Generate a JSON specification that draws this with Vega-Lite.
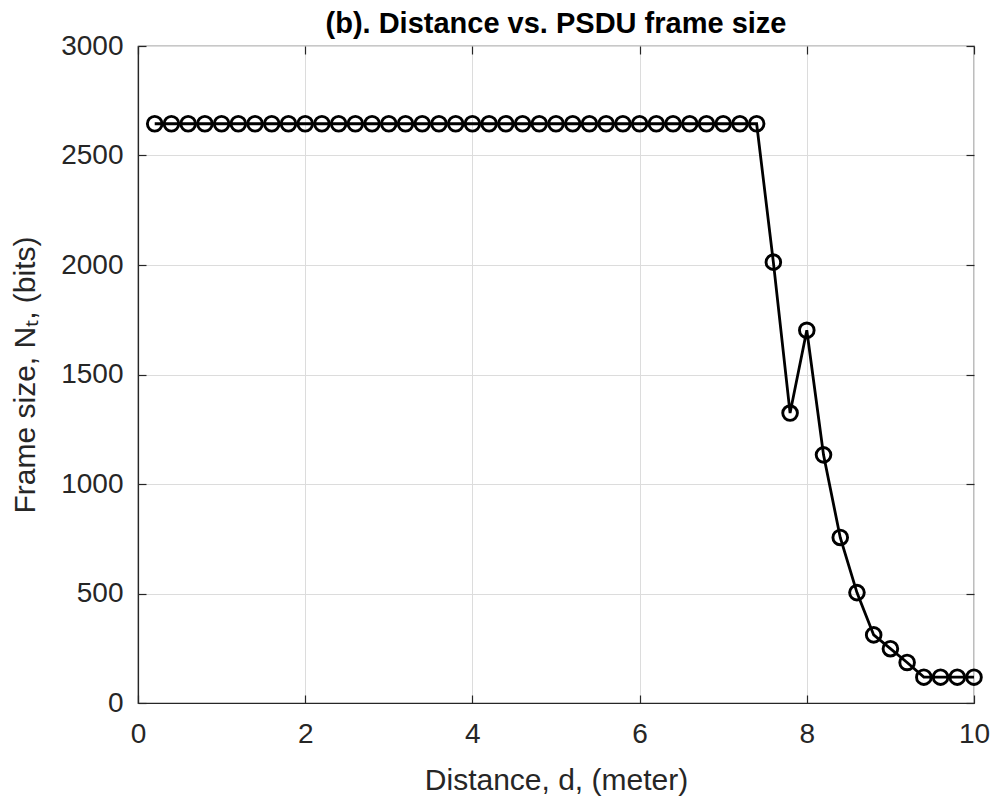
{
  "$schema": "https://vega.github.io/schema/vega-lite/v6.json",
  "autosize": {"type": "none"},
  "padding": {"left": 138, "top": 46, "right": 18, "bottom": 94},
  "width": 836,
  "height": 657,
  "background": "white",
  "title": {"text": "(b). Distance vs. PSDU frame size", "font": "Liberation Sans", "fontSize": 29, "fontWeight": "bold", "color": "#000000", "offset": -7, "anchor": "middle"},
  "config": {
    "view": {"stroke": "#262626", "strokeWidth": 1.2},
    "axis": {"domainColor": "#262626", "tickColor": "#262626", "labelColor": "#262626", "titleColor": "#262626", "labelFont": "Liberation Sans", "titleFont": "Liberation Sans", "labelFontSize": 28, "titleFontSize": 30, "titleFontWeight": "normal", "gridColor": "#dcdcdc", "gridWidth": 1, "tickSize": -8, "tickWidth": 1.2, "domainWidth": 1.2, "format": "d"}
  },
  "data": {"values": [
    {"d": 0.2, "n": 2645}, {"d": 0.4, "n": 2645}, {"d": 0.6, "n": 2645}, {"d": 0.8, "n": 2645},
    {"d": 1.0, "n": 2645}, {"d": 1.2, "n": 2645}, {"d": 1.4, "n": 2645}, {"d": 1.6, "n": 2645},
    {"d": 1.8, "n": 2645}, {"d": 2.0, "n": 2645}, {"d": 2.2, "n": 2645}, {"d": 2.4, "n": 2645},
    {"d": 2.6, "n": 2645}, {"d": 2.8, "n": 2645}, {"d": 3.0, "n": 2645}, {"d": 3.2, "n": 2645},
    {"d": 3.4, "n": 2645}, {"d": 3.6, "n": 2645}, {"d": 3.8, "n": 2645}, {"d": 4.0, "n": 2645},
    {"d": 4.2, "n": 2645}, {"d": 4.4, "n": 2645}, {"d": 4.6, "n": 2645}, {"d": 4.8, "n": 2645},
    {"d": 5.0, "n": 2645}, {"d": 5.2, "n": 2645}, {"d": 5.4, "n": 2645}, {"d": 5.6, "n": 2645},
    {"d": 5.8, "n": 2645}, {"d": 6.0, "n": 2645}, {"d": 6.2, "n": 2645}, {"d": 6.4, "n": 2645},
    {"d": 6.6, "n": 2645}, {"d": 6.8, "n": 2645}, {"d": 7.0, "n": 2645}, {"d": 7.2, "n": 2645},
    {"d": 7.4, "n": 2645}, {"d": 7.6, "n": 2013}, {"d": 7.8, "n": 1324}, {"d": 8.0, "n": 1702},
    {"d": 8.2, "n": 1133}, {"d": 8.4, "n": 756}, {"d": 8.6, "n": 504}, {"d": 8.8, "n": 311},
    {"d": 9.0, "n": 248}, {"d": 9.2, "n": 185}, {"d": 9.4, "n": 118}, {"d": 9.6, "n": 118},
    {"d": 9.8, "n": 118}, {"d": 10.0, "n": 118}
  ]},
  "layer": [
    {
      "mark": {"type": "point", "opacity": 0},
      "encoding": {
        "x": {"field": "d", "type": "quantitative", "scale": {"domain": [0, 10], "nice": false, "zero": false},
          "axis": {"orient": "top", "title": null, "labels": false, "domain": false, "grid": false, "values": [0, 2, 4, 6, 8, 10]}},
        "y": {"field": "n", "type": "quantitative", "scale": {"domain": [0, 3000], "nice": false},
          "axis": {"orient": "right", "title": null, "labels": false, "domain": false, "grid": false, "values": [0, 500, 1000, 1500, 2000, 2500, 3000]}}
      }
    },
    {
      "encoding": {
        "x": {"field": "d", "type": "quantitative", "scale": {"domain": [0, 10], "nice": false, "zero": false},
          "axis": {"orient": "bottom", "title": "Distance, d, (meter)", "values": [0, 2, 4, 6, 8, 10], "grid": true, "labelPadding": 25, "titlePadding": 17, "labelFlush": false}},
        "y": {"field": "n", "type": "quantitative", "scale": {"domain": [0, 3000], "nice": false},
          "axis": {"orient": "left", "title": "Frame size, Nₜ, (bits)", "values": [0, 500, 1000, 1500, 2000, 2500, 3000], "grid": true, "labelPadding": 23, "titlePadding": 20, "labelFlush": false}}
      },
      "layer": [
        {"mark": {"type": "line", "color": "#000000", "strokeWidth": 2.8}},
        {"mark": {"type": "point", "shape": "circle", "filled": false, "color": "#000000", "strokeWidth": 2.9, "size": 215, "opacity": 1}}
      ]
    }
  ],
  "resolve": {"axis": {"x": "independent", "y": "independent"}}
}
